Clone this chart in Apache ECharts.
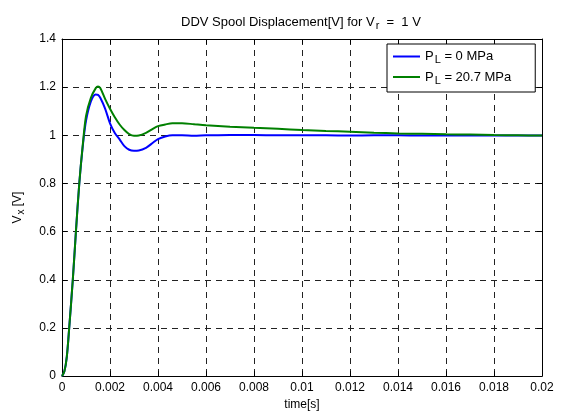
<!DOCTYPE html>
<html>
<head>
<meta charset="utf-8">
<script src="https://cdn.jsdelivr.net/npm/echarts@6/dist/echarts.min.js"></script>
<style>
  html, body { margin: 0; padding: 0; background: #fff; }
  #chart { width: 567px; height: 416px; }
</style>
</head>
<body>
<div id="chart"></div>
<script>
// 时间轴 (s)
const timeList = [0, 0.0001, 0.0002, 0.0003, 0.00045, 0.00058, 0.00072, 0.00086, 0.001, 0.0012,
  0.0014, 0.0015, 0.0016, 0.0018, 0.002, 0.0022, 0.0024, 0.0026, 0.0028, 0.003,
  0.0032, 0.0035, 0.0038, 0.004, 0.0043, 0.0046, 0.005, 0.0055, 0.006, 0.007,
  0.008, 0.009, 0.01, 0.011, 0.012, 0.013, 0.014, 0.015, 0.016, 0.017,
  0.018, 0.019, 0.02];
// P_L = 0 MPa
const spool0 = [0, 0.02, 0.08, 0.2, 0.4, 0.6, 0.8, 0.95, 1.06, 1.14,
  1.17, 1.168, 1.155, 1.11, 1.05, 1.01, 0.983, 0.955, 0.94, 0.936,
  0.937, 0.948, 0.97, 0.984, 0.995, 1.0, 1.0, 0.998, 1.0, 1.001,
  1.001, 1.0, 1.0, 1.0, 0.999, 1.0, 1.0, 0.999, 0.999, 1.0,
  0.999, 0.999, 0.999];
// P_L = 20.7 MPa
const spool207 = [0, 0.02, 0.08, 0.2, 0.4, 0.6, 0.8, 0.955, 1.08, 1.155,
  1.195, 1.203, 1.195, 1.15, 1.11, 1.075, 1.045, 1.022, 1.005, 0.998,
  0.999, 1.01, 1.028, 1.038, 1.045, 1.05, 1.05, 1.046, 1.042, 1.036,
  1.031, 1.027, 1.022, 1.018, 1.015, 1.011, 1.008, 1.006, 1.004, 1.003,
  1.001, 1.0, 0.999];

const seriesNames = ['{a|P}{s|L}{a| = 0 MPa}', '{a|P}{s|L}{a| = 20.7 MPa}'];

const font = 'Liberation Sans, Arial, sans-serif';
// 上下标文本样式
function richOf(size) {
  return {
    a: { fontFamily: font, fontSize: size, fontWeight: 'normal', color: '#000' },
    s: { fontFamily: font, fontSize: size - 2, fontWeight: 'normal', color: '#000', padding: [7, 0, 0, 1] }
  };
}

let chart = echarts.init(document.getElementById('chart'));

const gridLine = { show: true, lineStyle: { color: '#222', type: [6, 5], width: 1 } };
const frameLine = { show: true, onZero: false, lineStyle: { color: '#000', width: 1 } };
const tick = { show: true, inside: true, length: 5, lineStyle: { color: '#000' } };

let option = {
  animation: false,
  backgroundColor: '#fff',
  title: {
    text: '{a|DDV Spool Displacement[V] for V}{s|r}{a|  =  1 V}',
    left: 176,
    top: 8,
    textStyle: { fontWeight: 'normal', rich: richOf(13) }
  },
  legend: {
    orient: 'vertical',
    left: 387,
    top: 44,
    padding: [6, 24, 6, 6],
    itemGap: 5,
    itemWidth: 27,
    itemHeight: 2,
    icon: 'rect',
    borderColor: '#000',
    borderWidth: 1,
    backgroundColor: '#fff',
    data: seriesNames,
    textStyle: { rich: richOf(13) }
  },
  grid: { left: 62, right: 25, top: 39, bottom: 37 },
  xAxis: [{
    type: 'value',
    min: 0, max: 0.02, interval: 0.002,
    name: 'time[s]',
    nameLocation: 'middle',
    nameGap: 21,
    nameTextStyle: { fontFamily: font, fontSize: 12, color: '#000' },
    axisLine: frameLine,
    axisTick: tick,
    splitLine: gridLine,
    axisLabel: {
      color: '#000', fontFamily: font, fontSize: 12, margin: 6,
      formatter: v => String(+v.toFixed(4))
    }
  }, {
    type: 'value', position: 'top',
    min: 0, max: 0.02, interval: 0.002,
    axisLine: frameLine, axisTick: tick,
    axisLabel: { show: false }, splitLine: { show: false }
  }],
  yAxis: [{
    type: 'value',
    min: 0, max: 1.4, interval: 0.2,
    name: '{a|V}{s|x}{a| [V]}',
    nameLocation: 'middle',
    nameGap: 36,
    nameRotate: 90,
    nameTextStyle: { rich: richOf(12) },
    axisLine: frameLine,
    axisTick: tick,
    splitLine: gridLine,
    axisLabel: {
      color: '#000', fontFamily: font, fontSize: 12, margin: 6,
      formatter: v => String(+v.toFixed(1))
    }
  }, {
    type: 'value', position: 'right',
    min: 0, max: 1.4, interval: 0.2,
    axisLine: frameLine, axisTick: tick,
    axisLabel: { show: false }, splitLine: { show: false }
  }],
  series: [{
    name: seriesNames[0],
    type: 'line',
    showSymbol: false,
    symbol: 'none',
    smooth: 0.3,
    color: '#0000ff',
    lineStyle: { width: 2, color: '#0000ff' },
    data: timeList.map((t, i) => [t, spool0[i]])
  }, {
    name: seriesNames[1],
    type: 'line',
    showSymbol: false,
    symbol: 'none',
    smooth: 0.3,
    color: '#008000',
    lineStyle: { width: 2, color: '#008000' },
    data: timeList.map((t, i) => [t, spool207[i]])
  }]
};
chart.setOption(option);
</script>
</body>
</html>
